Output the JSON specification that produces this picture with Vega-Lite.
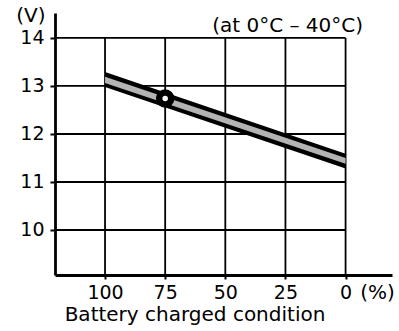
{
  "$schema": "https://vega.github.io/schema/vega-lite/v6.json",
  "width": 337,
  "height": 262,
  "autosize": "none",
  "padding": {"left": 55, "top": 13, "right": 7, "bottom": 56},
  "background": "white",
  "config": {
    "view": {"stroke": null},
    "axis": {"labelFont": "DejaVu Sans", "labelFontSize": 19, "labelColor": "black", "domainColor": "black", "tickColor": "black", "grid": false},
    "text": {"font": "DejaVu Sans", "fontSize": 20, "color": "black"}
  },
  "datasets": {
    "band": [
      {"pct": 100, "lo": 12.98, "hi": 13.29, "slo": 13.06, "shi": 13.19},
      {"pct": 0, "lo": 11.28, "hi": 11.59, "slo": 11.38, "shi": 11.5}
    ],
    "hgrid": [
      {"volt": 10, "from": 120.8, "to": 0},
      {"volt": 11, "from": 120.8, "to": 0},
      {"volt": 12, "from": 120.8, "to": 0},
      {"volt": 13, "from": 120.8, "to": 0},
      {"volt": 14, "from": 120.8, "to": 0}
    ],
    "vgrid": [
      {"pct": 100, "bottom": 9.0625, "top": 14},
      {"pct": 75, "bottom": 9.0625, "top": 14},
      {"pct": 50, "bottom": 9.0625, "top": 14},
      {"pct": 25, "bottom": 9.0625, "top": 14},
      {"pct": 0, "bottom": 9.0625, "top": 14}
    ],
    "marker": [{"pct": 75, "volt": 12.74}],
    "notes": [
      {"pct": 130.8, "volt": 14.34, "text": "(V)"},
      {"pct": 24.1, "volt": 14.125, "text": "(at 0°C – 40°C)"},
      {"pct": 62.6, "volt": 8.104, "text": "Battery charged condition"},
      {"pct": -13.3, "volt": 8.5625, "text": "(%)"}
    ]
  },
  "resolve": {"scale": {"x": "shared", "y": "shared"}},
  "layer": [
    {
      "data": {"name": "hgrid"},
      "mark": {"type": "rule", "color": "black", "strokeWidth": 1.8},
      "encoding": {
        "x": {
          "field": "from", "type": "quantitative",
          "scale": {"domain": [-19.3, 120.8], "reverse": true, "nice": false, "zero": false},
          "axis": {"values": [100, 75, 50, 25, 0], "title": null, "tickSize": 4, "tickWidth": 2, "domainWidth": 2.8, "labelPadding": 4, "labelFlush": false, "labelOverlap": false}
        },
        "x2": {"field": "to"},
        "y": {
          "field": "volt", "type": "quantitative",
          "scale": {"domain": [9.0625, 14.52], "nice": false, "zero": false},
          "axis": {"values": [10, 11, 12, 13, 14], "title": null, "tickSize": 5, "tickWidth": 2, "domainWidth": 2.8, "labelPadding": 6}
        }
      }
    },
    {
      "data": {"name": "vgrid"},
      "mark": {"type": "rule", "color": "black", "strokeWidth": 1.8},
      "encoding": {
        "x": {"field": "pct", "type": "quantitative", "title": null},
        "y": {"field": "bottom", "type": "quantitative", "title": null},
        "y2": {"field": "top"}
      }
    },
    {
      "data": {"name": "band"},
      "mark": {"type": "area", "color": "black", "opacity": 1},
      "encoding": {
        "x": {"field": "pct", "type": "quantitative", "title": null},
        "y": {"field": "lo", "type": "quantitative", "title": null},
        "y2": {"field": "hi"}
      }
    },
    {
      "data": {"name": "band"},
      "mark": {"type": "area", "color": "#b4b4b4", "opacity": 1},
      "encoding": {
        "x": {"field": "pct", "type": "quantitative", "title": null},
        "y": {"field": "slo", "type": "quantitative", "title": null},
        "y2": {"field": "shi"}
      }
    },
    {
      "data": {"name": "marker"},
      "mark": {"type": "point", "filled": false, "fill": "white", "fillOpacity": 1, "stroke": "black", "strokeWidth": 6.5, "size": 144, "opacity": 1},
      "encoding": {
        "x": {"field": "pct", "type": "quantitative", "title": null},
        "y": {"field": "volt", "type": "quantitative", "title": null}
      }
    },
    {
      "data": {"name": "notes"},
      "mark": {"type": "text", "baseline": "alphabetic", "align": "center"},
      "encoding": {
        "x": {"field": "pct", "type": "quantitative", "title": null},
        "y": {"field": "volt", "type": "quantitative", "title": null},
        "text": {"field": "text"}
      }
    }
  ]
}
